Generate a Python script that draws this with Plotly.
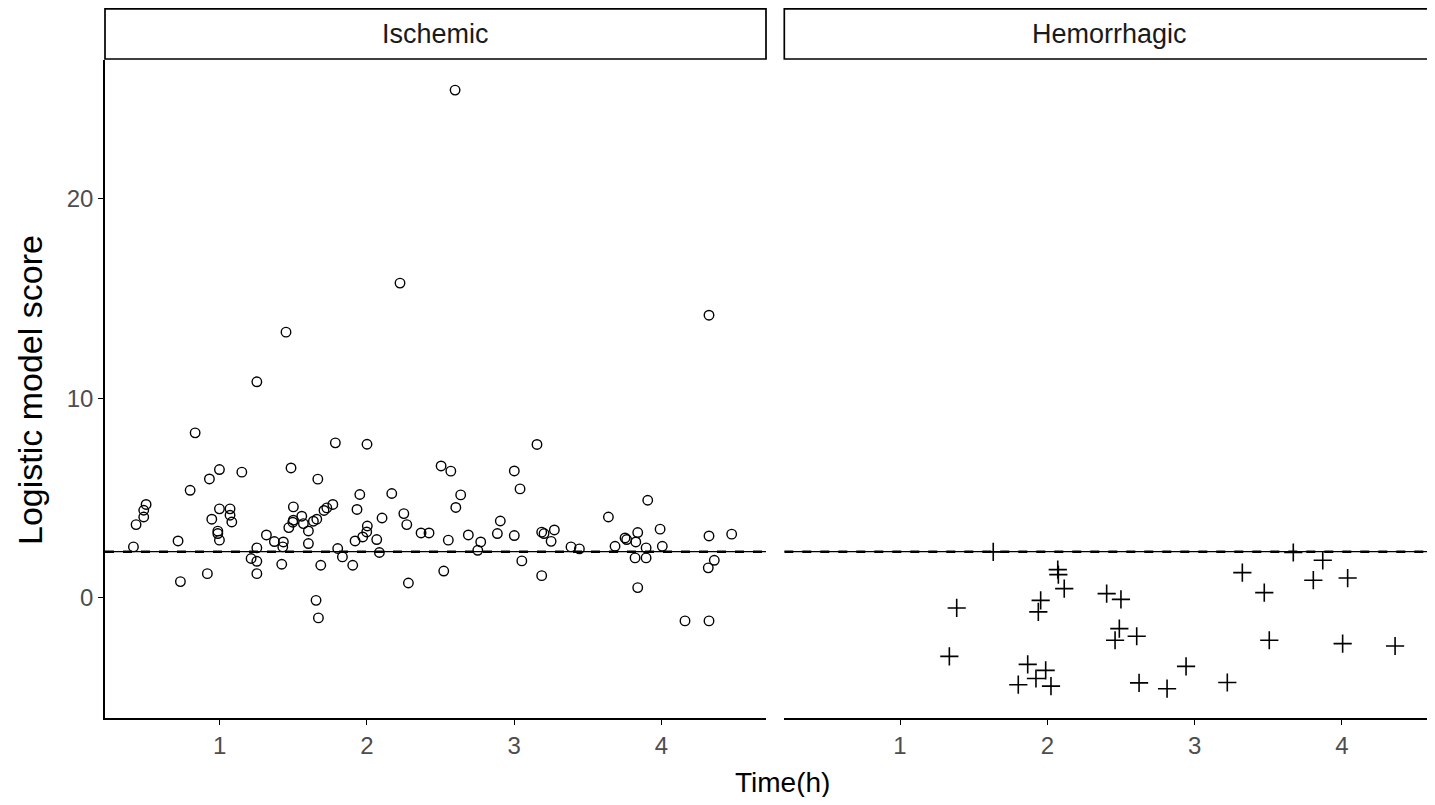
import plotly.graph_objects as go

# Ischemic panel (open circles)
isch_time = [1.253, 0.834, 0.999, 0.931, 1.151, 0.800, 0.501, 0.485, 0.485, 0.433,
             0.415, 0.718, 0.999, 1.071, 1.071, 0.947, 1.083, 0.988, 0.988, 0.999,
             1.318, 1.372, 1.253, 1.214, 1.253, 1.253, 0.917, 0.734, 1.422, 1.687,
             1.655, 1.671, 1.904, 1.786, 2.001, 1.485, 1.667, 1.952, 2.169, 1.933,
             1.501, 1.769, 1.728, 1.709, 2.103, 2.251, 2.271, 1.558, 1.501, 1.497,
             1.470, 1.569, 1.637, 1.660, 1.603, 2.003, 1.999, 1.972, 1.920, 2.067,
             2.368, 2.422, 1.433, 1.429, 1.603, 1.802, 1.834, 2.085, 2.282, 3.155,
             2.504, 2.570, 3.001, 3.040, 2.637, 2.604, 2.906, 2.886, 2.689, 3.001,
             2.553, 2.773, 2.753, 3.187, 3.203, 3.273, 3.251, 3.386, 3.443, 3.052,
             2.522, 3.187, 2.225, 2.599, 1.451, 4.323, 3.907, 3.640, 3.991, 3.753,
             3.764, 3.839, 3.826, 3.685, 3.896, 4.006, 3.821, 3.896, 3.839, 4.323,
             4.477, 4.359, 4.318, 4.160, 4.323]
isch_score = [10.83, 8.27, 6.43, 5.96, 6.30, 5.39, 4.68, 4.39, 4.05, 3.67,
              2.55, 2.85, 4.46, 4.46, 4.14, 3.94, 3.80, 3.34, 3.22, 2.89,
              3.15, 2.82, 2.50, 1.97, 1.83, 1.21, 1.21, 0.81, 1.68, 1.63,
              -0.13, -1.01, 1.63, 7.77, 7.70, 6.51, 5.95, 5.18, 5.23, 4.43,
              4.56, 4.68, 4.51, 4.38, 4.00, 4.22, 3.67, 4.09, 3.89, 3.79,
              3.52, 3.72, 3.84, 3.94, 3.35, 3.60, 3.30, 3.05, 2.85, 2.92,
              3.25, 3.25, 2.80, 2.55, 2.72, 2.47, 2.05, 2.27, 0.74, 7.69,
              6.61, 6.35, 6.36, 5.46, 5.16, 4.53, 3.85, 3.22, 3.15, 3.12,
              2.89, 2.80, 2.38, 3.29, 3.22, 3.40, 2.83, 2.55, 2.45, 1.85,
              1.34, 1.11, 15.78, 25.46, 13.32, 14.17, 4.89, 4.05, 3.44, 3.00,
              2.92, 3.27, 2.80, 2.58, 2.50, 2.58, 2.00, 2.00, 0.51, 3.10,
              3.19, 1.88, 1.50, -1.16, -1.16]

# Hemorrhagic panel (crosses)
hem_time = [1.633, 2.071, 2.075, 2.115, 2.403, 2.500, 1.385, 1.955, 1.939, 2.489,
            2.460, 2.607, 1.335, 1.867, 1.989, 1.923, 1.803, 2.025, 2.623, 2.813,
            2.942, 3.222, 3.324, 3.473, 3.507, 3.670, 3.870, 3.806, 4.039, 4.005,
            4.361]
hem_score = [2.30, 1.41, 1.16, 0.46, 0.21, -0.08, -0.51, -0.13, -0.71, -1.55,
             -2.13, -1.93, -2.94, -3.34, -3.64, -4.05, -4.36, -4.43, -4.27, -4.56,
             -3.44, -4.25, 1.26, 0.26, -2.13, 2.27, 1.88, 0.88, 0.99, -2.30,
             -2.42]

panels = ["Ischemic", "Hemorrhagic"]
cutoff = 2.31
x_ticks = [1, 2, 3, 4]
y_ticks = [0, 10, 20]

# figure sits inside the page body (8px default margin), kept within the window
W, H = 1419, 789
ml, mr, mt, mb = 97, 0, 52, 79
pw = W - ml - mr
ph = H - mt - mb
d1 = [0, 661 / pw]
d2 = [679.3 / pw, 1]

FONT = "Liberation Sans, Arial, sans-serif"

fig = go.Figure()
fig.add_trace(go.Scatter(x=isch_time, y=isch_score, mode="markers", xaxis="x", yaxis="y",
                         marker=dict(symbol="circle-open", size=9.5, color="black",
                                     line=dict(width=1.4, color="black")),
                         showlegend=False, cliponaxis=False))
fig.add_trace(go.Scatter(x=hem_time, y=hem_score, mode="markers", xaxis="x2", yaxis="y2",
                         marker=dict(symbol="cross-thin-open", size=13, color="black",
                                     line=dict(width=1.6, color="black")),
                         showlegend=False, cliponaxis=False))

xr1 = [0.222, 4.710]
xr2 = [0.2145, 1 + (1427 - 900) / 147.3]
yr = [-6.03, 26.97]

for xa, ya, xr in (("x", "y", xr1), ("x2", "y2", xr2)):
    fig.add_trace(go.Scatter(x=xr, y=[cutoff, cutoff], mode="lines", xaxis=xa, yaxis=ya,
                             line=dict(color="black", width=1.2),
                             showlegend=False, hoverinfo="skip"))
    fig.add_trace(go.Scatter(x=xr, y=[cutoff, cutoff], mode="lines", xaxis=xa, yaxis=ya,
                             line=dict(color="black", width=2.4, dash="dash"),
                             showlegend=False, hoverinfo="skip"))

tickfont = dict(family=FONT, size=24, color="#4D4D4D")
xcommon = dict(tickvals=x_ticks, ticktext=[str(t) for t in x_ticks], showline=True,
               linecolor="black", linewidth=1.6, ticks="outside", ticklen=5,
               tickwidth=1.4, tickcolor="black", showgrid=False, zeroline=False,
               tickfont=tickfont)

fig.update_layout(
    width=W, height=H,
    margin=dict(l=ml, r=mr, t=mt, b=mb),
    plot_bgcolor="white", paper_bgcolor="white",
    font=dict(family=FONT, color="black"),
    xaxis=dict(domain=d1, range=xr1, anchor="y", **xcommon),
    xaxis2=dict(domain=d2, range=xr2, anchor="y2", **xcommon),
    yaxis=dict(domain=[0, 1], range=yr, tickvals=y_ticks, ticktext=[str(t) for t in y_ticks],
               showline=True, linecolor="black", linewidth=1.6, ticks="outside",
               ticklen=5, tickwidth=1.4, tickcolor="black", showgrid=False,
               zeroline=False, tickfont=tickfont, anchor="x"),
    yaxis2=dict(domain=[0, 1], range=yr, showline=False, showticklabels=False, ticks="",
                showgrid=False, zeroline=False, anchor="x2"),
)

# axis titles
fig.add_annotation(text="Time(h)", xref="paper", yref="paper", x=(774 - ml) / pw,
                   y=(H - mb - 774) / ph, showarrow=False,
                   font=dict(family=FONT, size=28, color="black"),
                   xanchor="center", yanchor="middle")
fig.add_annotation(text="Logistic model score", xref="paper", yref="paper",
                   x=(22 - ml) / pw, y=(H - mb - 382) / ph, showarrow=False,
                   textangle=-90, font=dict(family=FONT, size=34, color="black"),
                   xanchor="center", yanchor="middle")

# strips
strip_y0 = (H - mb - 51) / ph
strip_y1 = (H - mb - 0.8) / ph
for name, d, x1 in ((panels[0], d1, d1[1]), (panels[1], [d2[0], 1 + 8 / pw], 1.03)):
    fig.add_shape(type="rect", xref="paper", yref="paper", x0=d[0], x1=x1,
                  y0=strip_y0, y1=strip_y1, line=dict(color="black", width=1.7),
                  fillcolor="white", layer="above")
    fig.add_annotation(text=name, xref="paper", yref="paper", x=(d[0] + d[1]) / 2,
                       y=(strip_y0 + strip_y1) / 2, showarrow=False,
                       font=dict(family=FONT, size=27, color="#1A1A1A"),
                       xanchor="center", yanchor="middle")

fig.write_html("out.html")
